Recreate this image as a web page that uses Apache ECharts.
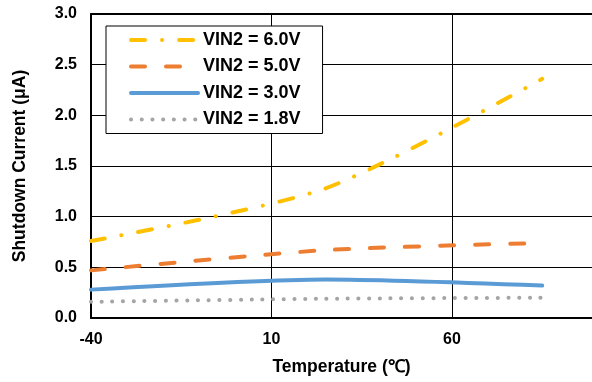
<!DOCTYPE html>
<html>
<head>
<meta charset="utf-8">
<script src="https://cdn.jsdelivr.net/npm/echarts@6/dist/echarts.min.js"></script>
<style>html,body{margin:0;padding:0;background:#fff}#c{width:592px;height:382px}</style>
</head>
<body>
<div id="c"></div>
<script>
const temps = [-40, 25, 85];
const seriesNames = ['VIN2 = 6.0V', 'VIN2 = 5.0V', 'VIN2 = 3.0V', 'VIN2 = 1.8V'];
const vin60 = [0.76, 1.28, 2.36];
const vin50 = [0.47, 0.67, 0.74];
const vin30 = [0.28, 0.38, 0.32];
const vin18 = [0.16, 0.19, 0.20];
const yTicks = [0, 0.5, 1.0, 1.5, 2.0, 2.5, 3.0];

const FONT = '"Liberation Sans", Arial, sans-serif';
const pairs = vals => temps.map((t, i) => [t, vals[i]]);

const styles = [
  { color: '#FFC000', type: [14, 17, 0.1, 17] },
  { color: '#ED7D31', type: [14, 21] },
  { color: '#5B9BD5', type: 'solid' },
  { color: '#A5A5A5', type: [0.1, 10.6] }
];
const values = [vin60, vin50, vin30, vin18];

const axisFont = { fontFamily: FONT, fontWeight: 'bold', fontSize: 16, color: '#000' };
const nameFont = { fontFamily: FONT, fontWeight: 'bold', fontSize: 17.5, color: '#000' };

const chart = echarts.init(document.getElementById('c'));
chart.setOption({
  animation: false,
  backgroundColor: '#fff',
  grid: { left: 91, right: 0, top: 14, bottom: 64 },
  legend: {
    orient: 'vertical', left: 106, top: 26,
    padding: [5, 22, 5, 23],
    itemWidth: 67, itemHeight: 14, itemGap: 8.5,
    borderColor: '#000', borderWidth: 1, backgroundColor: '#fff',
    itemStyle: { opacity: 0 },
    lineStyle: { width: 4, cap: 'round' },
    textStyle: { fontFamily: FONT, fontWeight: 'bold', fontSize: 18, color: '#000', lineHeight: 18 },
    data: seriesNames.map((n, i) => ({ name: n, lineStyle: { type: styles[i].type, width: 4, cap: 'round', color: styles[i].color } }))
  },
  xAxis: [{
    type: 'value', min: -40, max: 98.8, interval: 50,
    name: 'Temperature (℃)', nameLocation: 'middle', nameGap: 40,
    nameTextStyle: nameFont,
    axisLine: { show: true, onZero: false, lineStyle: { color: '#000', width: 2 } },
    axisTick: { show: false },
    axisLabel: Object.assign({ margin: 14, showMaxLabel: false }, axisFont),
    splitLine: { show: true, lineStyle: { color: '#000', width: 1 } }
  }, {
    type: 'value', position: 'top', min: -40, max: 98.8, interval: 50,
    axisLine: { show: true, onZero: false, lineStyle: { color: '#000', width: 2 } },
    axisTick: { show: false }, axisLabel: { show: false }, splitLine: { show: false }
  }],
  yAxis: {
    type: 'value', min: yTicks[0], max: yTicks[yTicks.length - 1], interval: 0.5,
    name: 'Shutdown Current (μA)', nameLocation: 'middle', nameGap: 62,
    nameTextStyle: nameFont,
    axisLine: { show: true, onZero: false, lineStyle: { color: '#000', width: 2 } },
    axisTick: { show: false },
    axisLabel: Object.assign({ margin: 14, formatter: v => v.toFixed(1) }, axisFont),
    splitLine: { show: true, lineStyle: { color: '#000', width: 1 } }
  },
  series: seriesNames.map((n, i) => ({
    name: n, type: 'line', symbol: 'none', smooth: 0.25,
    data: pairs(values[i]),
    color: styles[i].color,
    lineStyle: { color: styles[i].color, width: 4, type: styles[i].type, cap: 'round' },
    z: 10 - i
  }))
});
</script>
</body>
</html>
